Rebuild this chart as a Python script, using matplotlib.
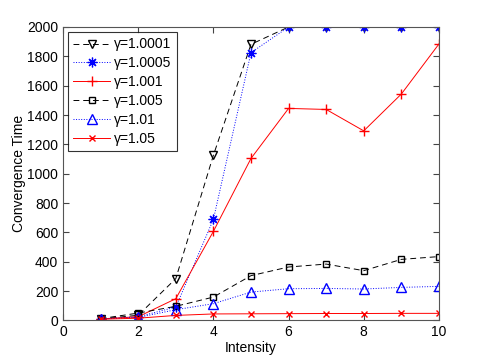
import numpy as np
import matplotlib.pyplot as plt

plt.rcParams['font.family'] = ['Liberation Sans', 'DejaVu Sans']

intensity = [1, 2, 3, 4, 5, 6, 7, 8, 9, 10]
g10001 = [10, 35, 285, 1126, 1882, 2000, 2000, 2000, 2000, 2000]
g10005 = [10, 25, 91, 689, 1825, 2000, 2000, 2000, 2000, 2000]
g1001 = [10, 25, 148, 607, 1104, 1445, 1438, 1292, 1543, 1884]
g1005 = [12, 50, 96, 159, 305, 364, 384, 339, 416, 435]
g101 = [10, 20, 73, 114, 193, 216, 218, 214, 225, 232]
g105 = [8, 15, 34, 44, 45, 46, 47, 47, 48, 48]

fig = plt.figure(figsize=(4.85, 3.6), dpi=100)
ax = fig.add_axes([0.13, 0.11, 0.775, 0.815])

ax.plot(intensity, g10001, 'k--', marker='v', mfc='none', ms=6, lw=0.7, dashes=(6, 4), label='γ=1.0001')
ax.plot(intensity, g10005, 'b:', marker=(8, 2, 0), ms=7, mew=0.9, lw=0.7, label='γ=1.0005')
ax.plot(intensity, g1001, 'r-', marker='+', ms=7, lw=0.7, label='γ=1.001')
ax.plot(intensity, g1005, 'k--', marker='s', mfc='none', ms=5, lw=0.7, dashes=(6, 4), label='γ=1.005')
ax.plot(intensity, g101, 'b:', marker='^', mfc='none', ms=7, lw=0.7, label='γ=1.01')
ax.plot(intensity, g105, 'r-', marker='x', ms=5, lw=0.7, label='γ=1.05')

ax.set_xlim(0, 10)
ax.set_ylim(0, 2000)
ax.set_xticks(np.arange(0, 11, 2))
ax.set_yticks(np.arange(0, 2001, 200))
ax.tick_params(direction='in', length=4, labelsize=10, top=True, right=True,
               color='#444444')
for s in ax.spines.values():
    s.set_color('#555555')
    s.set_linewidth(0.8)
ax.set_xlabel('Intensity', fontsize=10, labelpad=1)
ax.set_ylabel('Convergence Time', fontsize=10, labelpad=1)

leg = ax.legend(loc='upper left', fontsize=10, frameon=True, fancybox=False,
                edgecolor='black', handlelength=2.6, labelspacing=0.35,
                borderaxespad=0.35, handletextpad=0.3)
leg.get_frame().set_linewidth(0.8)

fig.savefig('out.png', dpi=100)
